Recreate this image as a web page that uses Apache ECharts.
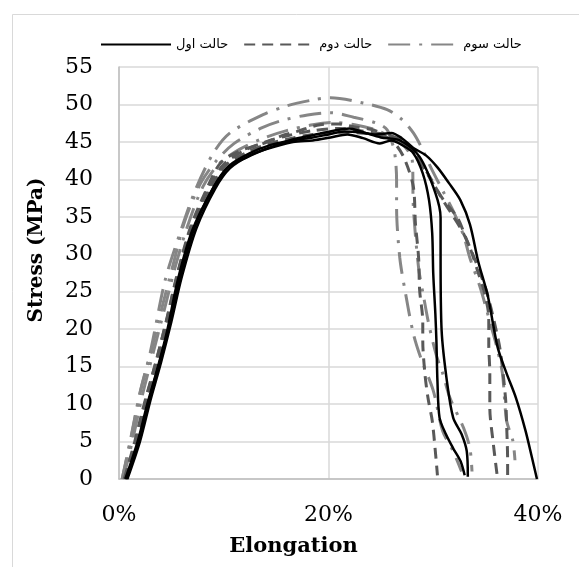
<!DOCTYPE html>
<html>
<head>
<meta charset="utf-8">
<script src="https://cdn.jsdelivr.net/npm/echarts@6/dist/echarts.min.js"></script>
<style>
html,body{margin:0;padding:0;background:#fff;}
#chart{width:579px;height:567px;}
</style>
</head>
<body>
<div id="chart"></div>
<script>
// Group names (legend)
var groupNames = ['حالت اول', 'حالت دوم', 'حالت سوم'];

// X ticks (Elongation %) and Y ticks (Stress MPa)
var xTicks = [0, 20, 40];
var yTicks = [0, 5, 10, 15, 20, 25, 30, 35, 40, 45, 50, 55];

// Group 1 (solid black) – [elongation %, stress MPa]
var g1a = [[0.6,0],[1.8,5.1],[2.7,10],[3.7,14.9],[4.6,19.8],[5.6,26.5],[7.0,33.2],[8.9,38.6],[10.4,41.6],[12.3,43.0],[14.0,44.0],[16.6,45.0],[18.5,45.2],[20.2,45.6],[21.8,46.0],[23.3,45.5],[24.9,44.8],[26.0,45.2],[27.0,44.6],[28.1,43.5],[29.0,40.8],[29.6,37.2],[29.9,32.8],[30.0,27.4],[30.2,22.1],[30.3,18.5],[30.4,13.1],[30.6,8.2],[31.2,6.0],[31.9,4.1],[32.6,2.4],[33.0,0.5]];
var g1b = [[0.8,0],[2.0,5.0],[3.0,10.5],[4.0,15.5],[5.0,21.0],[6.0,27.0],[7.4,33.5],[9.2,38.8],[10.6,41.5],[12.5,43.2],[14.5,44.3],[16.5,45.3],[18.5,45.9],[20.5,46.5],[22.0,46.8],[23.5,46.2],[25.0,45.6],[26.8,45.2],[28.7,43.0],[30.2,38.2],[30.7,34.9],[30.7,29.6],[30.8,19.8],[31.3,13.1],[31.9,8.2],[32.7,6.0],[33.2,3.7],[33.3,0.3]];
var g1c = [[0.7,0],[1.9,5.2],[2.8,10.2],[3.8,15.2],[4.8,20.5],[5.8,26.8],[7.2,33.5],[9.0,38.9],[10.5,41.8],[12.5,43.5],[14.5,44.6],[16.5,45.2],[18.5,45.6],[20.0,46.0],[21.5,46.4],[23.0,46.3],[24.5,46.0],[26.0,46.2],[27.0,45.5],[28.1,44.2],[29.3,43.2],[30.4,41.6],[31.5,39.5],[32.6,37.2],[33.5,34.0],[34.3,29.0],[35.2,24.5],[35.8,20.0],[36.2,17.3],[37.0,14.1],[37.9,10.8],[38.8,6.5],[39.4,3.0],[39.9,0]];

// Group 2 (dashed dark grey)
var g2a = [[0.5,0],[1.5,5.0],[2.5,10.5],[3.5,15.5],[4.5,21.0],[5.5,27.0],[6.8,33.5],[8.4,38.8],[9.7,42.2],[11.5,43.8],[13.8,44.8],[15.5,45.8],[17.0,46.4],[19.2,47.3],[21.0,47.4],[22.5,47.0],[24.3,46.6],[25.6,45.6],[26.5,44.5],[27.3,42.6],[28.1,39.0],[28.3,34.1],[28.6,29.6],[28.7,25.2],[29.0,21.0],[29.0,18.5],[29.2,14.1],[29.5,10.8],[29.9,7.8],[30.2,3.7],[30.4,0.5]];
var g2b = [[0.6,0],[1.6,5.2],[2.6,10.8],[3.6,16.0],[4.6,21.5],[5.6,27.4],[6.9,33.6],[8.6,39.0],[10.0,42.0],[12.0,43.9],[14.0,45.0],[16.0,45.8],[18.5,46.5],[21.0,46.8],[23.0,46.5],[24.5,46.2],[26.0,45.8],[27.5,44.5],[28.8,42.3],[29.8,40.0],[30.8,37.5],[31.8,35.3],[32.8,33.0],[33.6,30.5],[34.3,27.5],[34.9,24.8],[35.3,21.5],[35.3,18.0],[35.4,14.1],[35.4,9.5],[35.7,5.1],[36.1,0.5]];
var g2c = [[0.7,0],[1.7,5.0],[2.7,10.4],[3.7,15.6],[4.7,21.2],[5.7,27.2],[7.0,33.4],[8.8,38.9],[10.2,41.9],[12.2,43.6],[14.2,44.7],[16.2,45.4],[18.5,46.0],[21.0,46.3],[23.0,46.2],[25.0,45.9],[26.5,45.5],[28.0,44.0],[29.4,40.8],[31.0,37.2],[32.3,34.9],[33.2,31.9],[34.2,28.5],[35.1,25.0],[35.9,20.5],[36.4,17.1],[36.9,10.8],[37.0,7.4],[37.1,2.4],[37.1,0.3]];

// Group 3 (dash-dot light grey)
var g3a = [[0.3,0],[1.1,5.1],[2.0,11.4],[3.0,16.7],[4.2,23.4],[5.2,28.8],[6.3,34.5],[7.8,39.5],[9.3,42.5],[11.0,44.8],[13.5,46.8],[15.4,47.8],[18.0,48.6],[20.2,48.9],[22.4,48.3],[24.6,47.5],[25.6,46.6],[26.2,44.3],[26.4,42.6],[26.5,39.9],[26.5,36.3],[26.8,29.6],[27.3,25.2],[28.1,19.4],[28.8,16.2],[30.0,11.8],[30.9,6.4],[31.9,3.7],[32.7,1.0]];
var g3b = [[0.3,0],[1.1,5.3],[2.0,11.5],[3.0,17.0],[4.4,26.5],[5.7,32.3],[7.3,38.6],[9.0,43.5],[10.6,46.2],[13.7,48.6],[16.0,49.8],[18.5,50.6],[20.2,50.9],[23.3,50.2],[25.6,49.3],[27.0,48.0],[28.1,46.2],[28.9,44.2],[29.8,41.5],[30.9,38.5],[32.0,35.5],[32.9,32.5],[33.5,29.5],[34.5,25.5],[35.4,21.0],[36.0,18.0],[36.6,14.1],[37.0,7.8],[37.6,5.1],[37.8,2.5]];
var g3c = [[0.4,0],[1.3,5.2],[2.2,11.0],[3.2,16.5],[4.4,23.0],[5.4,28.5],[6.6,34.0],[8.0,39.0],[9.5,42.0],[11.5,44.0],[13.8,45.5],[16.0,46.5],[18.5,47.3],[20.5,47.6],[22.5,47.3],[24.5,46.6],[26.0,45.6],[27.2,44.5],[28.0,42.5],[28.1,36.3],[28.6,28.2],[29.1,24.2],[29.6,20.5],[30.3,16.5],[30.9,14.1],[31.6,10.8],[32.9,6.8],[33.5,4.1],[33.7,1.0]];

var styles = [
  {color:'#000000', width:2.5, type:'solid'},
  {color:'#595959', width:3, type:[11,7]},
  {color:'#868686', width:3, type:[22,9,3,9]}
];
var groups = [[g1a,g1b,g1c],[g2a,g2b,g2c],[g3a,g3b,g3c]];

var series = [];
// draw light groups first so black on top
[2,1,0].forEach(function(gi){
  groups[gi].forEach(function(d){
    series.push({
      name: groupNames[gi],
      type: 'line',
      data: d,
      symbol: 'none',
      smooth: 0.3,
      color: styles[gi].color,
      lineStyle: {color: styles[gi].color, width: styles[gi].width, type: styles[gi].type, cap:'butt'},
      z: 3 - gi
    });
  });
});

var chart = echarts.init(document.getElementById('chart'), null, {renderer:'canvas'});
chart.setOption({
  animation: false,
  backgroundColor: '#ffffff',
  graphic: [{
    type: 'rect', left: 10, top: 12, silent: true,
    shape: {x: 0.5, y: 0.5, width: 620, height: 620},
    style: {fill: 'none', stroke: '#d9d9d9', lineWidth: 1}
  }],
  legend: {
    data: groupNames,
    left: 95, top: 33,
    itemWidth: 70, itemHeight: 14, itemGap: 15,
    itemStyle: {opacity: 0},
    textStyle: {fontFamily: 'DejaVu Sans', fontSize: 13, color: '#000'}
  },
  grid: {left: 119, right: 41, top: 67, bottom: 88, containLabel: false},
  xAxis: {
    type: 'value', min: xTicks[0], max: xTicks[xTicks.length-1], interval: 20,
    name: 'Elongation', nameLocation: 'middle', nameGap: 57,
    nameTextStyle: {fontFamily: 'DejaVu Serif', fontWeight: 'bold', fontSize: 21, color: '#000', padding: [0,70,0,0]},
    axisLine: {show: true, lineStyle: {color: '#bfbfbf', width: 1.5}},
    axisTick: {show: false},
    axisLabel: {formatter: '{value}%', fontFamily: 'DejaVu Serif', fontSize: 22, color: '#000', margin: 25},
    splitLine: {show: true, lineStyle: {color: '#d9d9d9', width: 1.5}}
  },
  yAxis: {
    type: 'value', min: yTicks[0], max: yTicks[yTicks.length-1], interval: 5,
    name: 'Stress (MPa)', nameLocation: 'middle', nameGap: 72,
    nameTextStyle: {fontFamily: 'DejaVu Serif', fontWeight: 'bold', fontSize: 20, color: '#000', padding: [0,0,0,46]},
    axisLine: {show: true, lineStyle: {color: '#bfbfbf', width: 1.5}},
    axisTick: {show: false},
    axisLabel: {fontFamily: 'DejaVu Serif', fontSize: 22, color: '#000', margin: 26},
    splitLine: {show: true, lineStyle: {color: '#d9d9d9', width: 1.5}}
  },
  series: series
});
</script>
</body>
</html>
